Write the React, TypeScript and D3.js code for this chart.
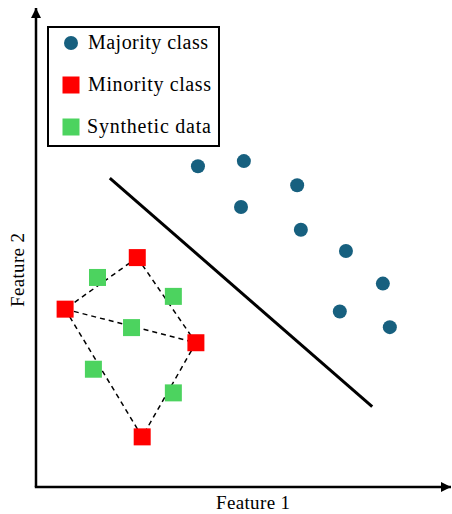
import React, { useEffect, useRef } from 'react';
import * as d3 from 'd3';

// feature-space coordinates (0..10 on both axes)
const majorityX = [3.95, 5.07, 6.37, 5.0, 6.46, 7.56, 8.46, 7.41, 8.63];
const majorityY = [6.78, 6.89, 6.38, 5.92, 5.44, 4.99, 4.3, 3.71, 3.38];

const minorityX = [2.47, 0.71, 3.9, 2.59];
const minorityY = [4.85, 3.76, 3.05, 1.06];

const syntheticX = [1.5, 3.35, 2.33, 1.4, 3.35];
const syntheticY = [4.43, 4.03, 3.37, 2.49, 1.99];

// pairs of minority indices joined by dashed interpolation lines
const links: [number, number][] = [[0, 1], [0, 2], [1, 2], [1, 3], [2, 3]];

const boundaryX = [1.8, 8.2];
const boundaryY = [6.53, 1.7];

const legendLabels = ['Majority class', 'Minority class', 'Synthetic data'];

const W = 452;
const H = 514;

export default function App() {
  const svgRef = useRef<SVGSVGElement>(null);

  useEffect(() => {
    if (!svgRef.current) return;
    const svg = d3.select(svgRef.current);
    svg.selectAll('*').remove();

    const x = d3.scaleLinear().domain([0, 10]).range([36, 446]);
    const y = d3.scaleLinear().domain([0, 10]).range([487, 14]);

    const font = '"Liberation Serif", "DejaVu Serif", serif';
    const blue = '#17607f';
    const red = '#ff0000';
    const green = '#4cd35f';
    const sq = 17;

    // arrow marker
    svg.append('defs').append('marker')
      .attr('id', 'arrow')
      .attr('viewBox', '0 0 10 10')
      .attr('refX', 10).attr('refY', 5)
      .attr('markerWidth', 4).attr('markerHeight', 4)
      .attr('markerUnits', 'strokeWidth')
      .attr('orient', 'auto')
      .append('path').attr('d', 'M0,0 L10,5 L0,10 z').attr('fill', '#000');

    // axes
    svg.append('line')
      .attr('x1', x(0)).attr('y1', y(0)).attr('x2', x(0)).attr('y2', 8)
      .attr('stroke', '#000').attr('stroke-width', 2.5)
      .attr('marker-end', 'url(#arrow)');
    svg.append('line')
      .attr('x1', x(0) - 1.2).attr('y1', y(0)).attr('x2', 451).attr('y2', y(0))
      .attr('stroke', '#000').attr('stroke-width', 2.5)
      .attr('marker-end', 'url(#arrow)');

    svg.append('text')
      .attr('x', 253).attr('y', 509)
      .attr('text-anchor', 'middle')
      .attr('font-family', font).attr('font-size', 19)
      .attr('textLength', 74)
      .text('Feature 1');
    svg.append('text')
      .attr('transform', `translate(24,${270}) rotate(-90)`)
      .attr('text-anchor', 'middle')
      .attr('font-family', font).attr('font-size', 19)
      .attr('textLength', 74)
      .text('Feature 2');

    // decision boundary
    svg.append('line')
      .attr('x1', x(boundaryX[0])).attr('y1', y(boundaryY[0]))
      .attr('x2', x(boundaryX[1])).attr('y2', y(boundaryY[1]))
      .attr('stroke', '#000').attr('stroke-width', 3);

    // dashed links between minority samples
    svg.selectAll('.link')
      .data(links)
      .enter()
      .append('line')
      .attr('x1', (d) => x(minorityX[d[0]]))
      .attr('y1', (d) => y(minorityY[d[0]]))
      .attr('x2', (d) => x(minorityX[d[1]]))
      .attr('y2', (d) => y(minorityY[d[1]]))
      .attr('stroke', '#000').attr('stroke-width', 1.5)
      .attr('stroke-dasharray', '5,4');

    // synthetic squares
    svg.selectAll('.syn')
      .data(syntheticX)
      .enter()
      .append('rect')
      .attr('x', (d) => x(d) - sq / 2)
      .attr('y', (_, i) => y(syntheticY[i]) - sq / 2)
      .attr('width', sq).attr('height', sq)
      .attr('fill', green);

    // minority squares
    svg.selectAll('.min')
      .data(minorityX)
      .enter()
      .append('rect')
      .attr('x', (d) => x(d) - sq / 2)
      .attr('y', (_, i) => y(minorityY[i]) - sq / 2)
      .attr('width', sq).attr('height', sq)
      .attr('fill', red);

    // majority circles
    svg.selectAll('.maj')
      .data(majorityX)
      .enter()
      .append('circle')
      .attr('cx', (d) => x(d))
      .attr('cy', (_, i) => y(majorityY[i]))
      .attr('r', 7)
      .attr('fill', blue);

    // legend
    const lg = svg.append('g');
    lg.append('rect')
      .attr('x', 48).attr('y', 27).attr('width', 171).attr('height', 119)
      .attr('fill', '#fff').attr('stroke', '#000').attr('stroke-width', 2);
    const rows = [43, 85, 127];
    const widths = [120, 123, 124];
    lg.append('circle').attr('cx', 71).attr('cy', rows[0]).attr('r', 7).attr('fill', blue);
    lg.append('rect').attr('x', 71 - sq / 2).attr('y', rows[1] - sq / 2)
      .attr('width', sq).attr('height', sq).attr('fill', red);
    lg.append('rect').attr('x', 71 - sq / 2).attr('y', rows[2] - sq / 2)
      .attr('width', sq).attr('height', sq).attr('fill', green);
    lg.selectAll('.lbl')
      .data(legendLabels)
      .enter()
      .append('text')
      .attr('x', (_, i) => (i === 2 ? 87 : 88))
      .attr('y', (_, i) => rows[i] + 6)
      .attr('font-family', font).attr('font-size', 20)
      .attr('textLength', (_, i) => widths[i])
      .text((d) => d);
  }, []);

  return (
    <svg
      ref={svgRef}
      width={W}
      height={H}
      style={{ position: 'absolute', left: 0, top: 0, background: '#fff' }}
    />
  );
}
